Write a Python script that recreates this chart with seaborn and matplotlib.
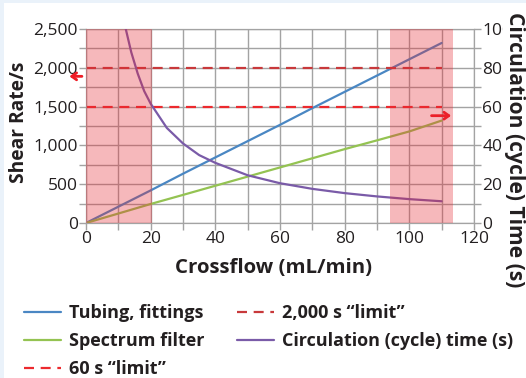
import numpy as np
import pandas as pd
import seaborn as sns
import matplotlib.pyplot as plt
from matplotlib.patches import Rectangle

# data
flow = [0, 10, 20, 30, 40, 50, 60, 70, 80, 90, 100, 110]
tubing = [0, 210, 420, 635, 845, 1055, 1265, 1480, 1690, 1900, 2110, 2320]
spectrum = [0, 122, 245, 362, 480, 598, 716, 834, 952, 1065, 1180, 1320]

circ_flow = [12.3, 14, 16, 18, 20, 25, 30, 35, 40, 50, 60, 70, 80, 90, 100, 110]
circ_time = [100, 88, 77, 68, 61.5, 49, 41, 35, 31, 24.6, 20.5, 17.6, 15.4, 13.7, 12.3, 11.2]

shear_limit = 2000      # left axis
cycle_limit = 60        # right axis
limit_span = [0, 110]
red_bands = [(0, 20.5), (94, 113.5)]

sns.set_style("white")
plt.rcParams["font.family"] = ["Open Sans", "DejaVu Sans"]

blue = "#4a87c3"
green = "#94c352"
purple = "#7a5ba8"
grid_c = "#a3a3a3"
ink = "#231f20"

fig, ax = plt.subplots(figsize=(5.26, 3.78), dpi=100)
fig.subplots_adjust(left=86/526, right=474/526, top=1-29/378, bottom=1-223/378)
ax2 = ax.twinx()

df = pd.DataFrame({"flow": flow, "tubing": tubing, "spectrum": spectrum})
sns.lineplot(data=df, x="flow", y="tubing", ax=ax, color=blue, lw=1.6,
             label="Tubing, fittings", zorder=3)
sns.lineplot(data=df, x="flow", y="spectrum", ax=ax, color=green, lw=1.6,
             label="Spectrum filter", zorder=3)
ax.plot(limit_span, [cycle_limit * 25] * 2, color="#ec2a2e", lw=1.6,
        dashes=(4.5, 3), label="60 s \u201climit\u201d", zorder=3)
ax.plot(limit_span, [shear_limit] * 2, color="#c8393b", lw=1.6,
        dashes=(4.5, 3), label="2,000 s \u201climit\u201d", zorder=3)

sns.lineplot(x=circ_flow, y=circ_time, ax=ax2, color=purple, lw=1.6,
             label="Circulation (cycle) time (s)", zorder=3)

for x0, x1 in red_bands:
    ax2.axvspan(x0, x1, color="#e62832", alpha=0.33, lw=0, zorder=4)

# arrows pointing to the relevant axis
ax.annotate("", xy=(-6, 1890), xytext=(-0.4, 1890), annotation_clip=False,
            arrowprops=dict(arrowstyle="->,head_length=0.35,head_width=0.25",
                            color="#ee1c25", lw=2))
ax.annotate("", xy=(113.8, 1383), xytext=(106, 1383), annotation_clip=False,
            arrowprops=dict(arrowstyle="->,head_length=0.35,head_width=0.25",
                            color="#ee1c25", lw=2))

ax.set_xlim(0, 120)
ax.set_ylim(0, 2500)
ax2.set_ylim(0, 100)
ax.set_xticks(range(0, 121, 20))
ax.set_xticks(range(0, 121, 10), minor=True)
ax.set_yticks(range(0, 2501, 500))
ax.set_yticks(range(0, 2501, 250), minor=True)
ax.set_yticklabels([f"{v:,}" for v in range(0, 2501, 500)])
ax2.set_yticks(range(0, 101, 20))
ax2.set_yticks(range(0, 101, 10), minor=True)

ax.grid(True, which="both", color=grid_c, lw=1)
ax.set_axisbelow(True)
ax2.grid(False)
for a in (ax, ax2):
    for s in a.spines.values():
        s.set_color(grid_c)
    a.tick_params(which="both", length=5, color=grid_c, width=1,
                  labelsize=12.5, labelcolor=ink, pad=1)
ax.tick_params(axis="y", which="both", left=True)
ax.tick_params(axis="x", which="both", bottom=True)
ax2.tick_params(axis="y", which="both", right=True)

ax.set_xlabel("Crossflow (mL/min)", fontsize=14, fontweight="bold", color=ink,
              va="center")
ax.xaxis.set_label_coords(273.5/388 - 86/388, (223 - 268.5)/194)
ax.set_ylabel("Shear Rate/s", fontsize=14, fontweight="bold", color=ink,
              va="center")
ax.yaxis.set_label_coords((19.5 - 86)/388, (223 - 122)/194)
ax2.set_ylabel("Circulation (cycle) Time (s)", rotation=270, fontsize=14,
               fontweight="bold", color=ink, va="center", ha="center")
ax2.yaxis.set_label_coords((514 - 86)/388, (223 - 150)/194)
# in the original the title sits over the end of the top tick label
ax2.yaxis.label.set_bbox(dict(facecolor="white", edgecolor="none", pad=0.5))
ax2.yaxis.label.set_zorder(10)

# scale the axis titles so their length matches the original
fig.canvas.draw()
r = fig.canvas.get_renderer()
for lbl, size, horiz in [(ax.xaxis.label, 197, True),
                         (ax.yaxis.label, 122, False),
                         (ax2.yaxis.label, 274, False)]:
    bb = lbl.get_window_extent(r)
    cur = bb.width if horiz else bb.height
    lbl.set_fontsize(lbl.get_fontsize() * size / cur)

h1, l1 = ax.get_legend_handles_labels()
h2, l2 = ax2.get_legend_handles_labels()
ax.get_legend().remove()
ax2.get_legend().remove()
handles = h1[:3] + [h1[3], h2[0]]
labels = l1[:3] + [l1[3], l2[0]]
fig.legend(handles, labels, ncol=2, loc="upper left",
           bbox_to_anchor=(24/526, 1-304/378), frameon=False,
           prop=dict(size=13, weight="bold"), labelcolor=ink,
           handlelength=2.05, handletextpad=0.45, columnspacing=1.8,
           labelspacing=0.55, borderpad=0, borderaxespad=0)

# light blue edge of the source figure
fig.add_artist(Rectangle((0, 1-3/378), 1, 3/378, transform=fig.transFigure,
                         color="#eaf2fa", lw=0))
fig.add_artist(Rectangle((0, 0), 4/526, 1, transform=fig.transFigure,
                         color="#eaf2fa", lw=0))

fig.savefig("out.png", dpi=100)
